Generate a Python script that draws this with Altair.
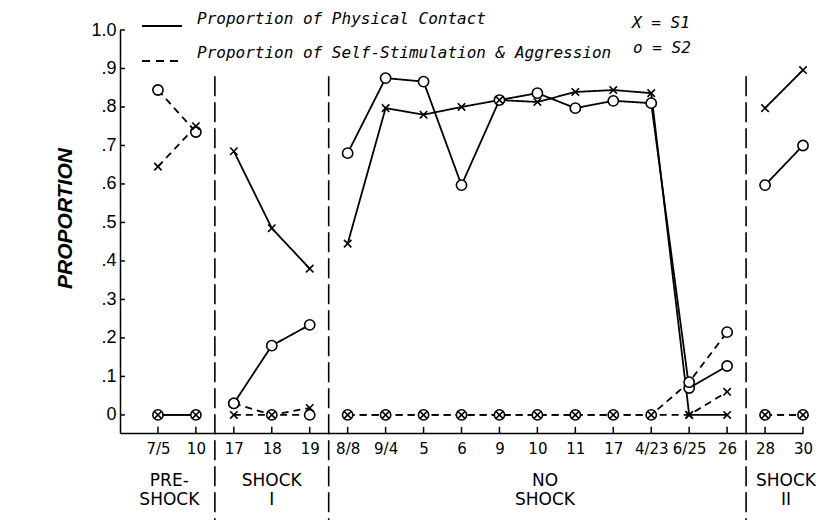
import json
import altair as alt
import pandas as pd

# ---------------- data ----------------
dates = ["7/5", "10", "17", "18", "19", "8/8", "9/4", "5", "6", "9",
         "10", "11", "17", "4/23", "6/25", "26", "28", "30"]
phases = ["PRE"] * 2 + ["SHOCK I"] * 3 + ["NO SHOCK"] * 11 + ["SHOCK II"] * 2

s1_contact = [0, 0, .685, .485, .38, .445, .797, .78, .80, .818,
              .813, .839, .844, .836, 0, 0, .797, .896]
s2_contact = [0, 0, .03, .18, .234, .68, .875, .866, .597, .818,
              .836, .797, .816, .81, .07, .127, .597, .70]
s1_selfstim = [.645, .75, 0, 0, .018, 0, 0, 0, 0, 0,
               0, 0, 0, 0, 0, .06, 0, 0]
s2_selfstim = [.844, .735, .03, 0, 0, 0, 0, 0, 0, 0,
               0, 0, 0, 0, .085, .215, 0, 0]

section_labels = ["PRE-\nSHOCK", "SHOCK\nI", "NO\nSHOCK", "SHOCK\nII"]
section_centers = [0.3, 3.0, 10.2, 16.55]
separators = [1.5, 4.5, 15.5]
y_ticks = [0, .1, .2, .3, .4, .5, .6, .7, .8, .9, 1.0]

legend_line_labels = ["Proportion of Physical Contact",
                      "Proportion of Self-Stimulation & Aggression"]
legend_symbol_labels = ["X = S1", "o = S2"]

# ---------------- tables ----------------
rows = []
for subj, meas, vals in [("S1", "contact", s1_contact), ("S2", "contact", s2_contact),
                         ("S1", "selfstim", s1_selfstim), ("S2", "selfstim", s2_selfstim)]:
    for i, v in enumerate(vals):
        rows.append({"idx": i, "value": v, "subject": subj, "measure": meas,
                     "phase": phases[i], "key": f"{subj}|{meas}|{phases[i]}"})
df = pd.DataFrame(rows)

Y_MIN = -0.047
FONT = "DejaVu Sans"
LEGFONT = "DejaVu Sans Mono"

xscale = alt.Scale(domain=[-1, 17], nice=False, zero=False)
yscale = alt.Scale(domain=[Y_MIN, 1.0], nice=False, zero=False)

label_arr = json.dumps(dates)
XA = alt.Axis(values=list(range(len(dates))),
              labelExpr=f"{label_arr}[datum.value]",
              title=None, grid=False, ticks=False,
              labelFont=FONT, labelFontSize=15, labelColor="black",
              labelPadding=8, domainColor="black", domainWidth=1.5,
              labelFlush=False)
YA = alt.Axis(values=y_ticks,
              labelExpr="datum.value == 0 ? '0' : (datum.value >= 0.99 ? '1.0' : replace(format(datum.value, '.1f'), '0.', '.'))",
              title="PROPORTION", titleFont="Liberation Sans", titleFontSize=21,
              titleFontWeight="bold", titleFontStyle="italic", titleColor="black",
              titleX=-55, titleY=188, titleAngle=270, titleAlign="center",
              titleBaseline="middle",
              grid=False, ticks=False,
              labelFont="Liberation Sans", labelFontSize=18, labelColor="black",
              labelPadding=4, domainColor="black", domainWidth=1.5)

base = alt.Chart(df)

lines = base.mark_line(color="black", strokeWidth=1.8).encode(
    x=alt.X("idx:Q", scale=xscale, axis=XA),
    y=alt.Y("value:Q", scale=yscale, axis=YA),
    detail="key:N",
    strokeDash=alt.StrokeDash("measure:N",
                              scale=alt.Scale(domain=["contact", "selfstim"],
                                              range=[[1, 0], [7, 5]]),
                              legend=None),
)

circles = base.transform_filter(alt.datum.subject == "S2").mark_point(
    shape="circle", size=105, filled=True, fill="white", stroke="black",
    strokeWidth=1.6, opacity=1).encode(
    x=alt.X("idx:Q", scale=xscale, axis=XA),
    y=alt.Y("value:Q", scale=yscale, axis=YA),
)

crosses = base.transform_filter(alt.datum.subject == "S1").mark_point(
    shape="M-1,-1L1,1M-1,1L1,-1", size=55, filled=False, stroke="black",
    strokeWidth=1.6, opacity=1).encode(
    x=alt.X("idx:Q", scale=xscale, axis=XA),
    y=alt.Y("value:Q", scale=yscale, axis=YA),
)

sep = alt.Chart(pd.DataFrame({"x": separators})).mark_rule(
    color="black", strokeWidth=1.6, strokeDash=[20, 6]).encode(
    x=alt.X("x:Q", scale=xscale, axis=XA),
    y=alt.Y(datum=0.88, scale=yscale, axis=YA),
    y2=alt.value(490),
)

ytick = alt.Chart(pd.DataFrame({"v": y_ticks})).mark_rule(
    color="black", strokeWidth=1.5).encode(
    y=alt.Y("v:Q", scale=yscale, axis=YA),
    x=alt.X(datum=-1, scale=xscale, axis=XA),
    x2=alt.X2(datum=-0.87),
)

xtick = alt.Chart(pd.DataFrame({"i": list(range(len(dates)))})).mark_rule(
    color="black", strokeWidth=1.5).encode(
    x=alt.X("i:Q", scale=xscale, axis=XA),
    y=alt.Y(datum=Y_MIN, scale=yscale, axis=YA),
    y2=alt.Y2(datum=Y_MIN + 0.016),
)

sections = alt.Chart(pd.DataFrame({"x": section_centers, "t": section_labels})).mark_text(
    font=FONT, fontSize=17, color="black", align="center", baseline="top",
    lineBreak="\n", lineHeight=19).encode(
    x=alt.X("x:Q", scale=xscale, axis=XA),
    y=alt.value(443),
    text="t:N",
)

leg_solid = alt.Chart(pd.DataFrame({"a": [0]})).mark_rule(
    color="black", strokeWidth=1.8).encode(
    x=alt.value(22), x2=alt.value(62), y=alt.value(-4))
leg_dash = alt.Chart(pd.DataFrame({"a": [0]})).mark_rule(
    color="black", strokeWidth=1.8, strokeDash=[8, 6]).encode(
    x=alt.value(22), x2=alt.value(62), y=alt.value(31))

def legend_text(t, x, y):
    return alt.Chart(pd.DataFrame({"t": [t]})).mark_text(
        font=LEGFONT, fontSize=16, fontStyle="italic", color="black", align="left",
        baseline="middle").encode(x=alt.value(x), y=alt.value(y), text="t:N")

chart = alt.layer(
    lines, sep, circles, crosses, ytick, xtick, sections,
    leg_solid, leg_dash,
    legend_text(legend_line_labels[0], 77, -11),
    legend_text(legend_line_labels[1], 77, 23),
    legend_text(legend_symbol_labels[0], 512, -7),
    legend_text(legend_symbol_labels[1], 513, 18),
).properties(
    width=683, height=403,
    autosize=alt.AutoSizeParams(type="none"),
    padding={"left": 120, "top": 30, "right": 13, "bottom": 87},
    background="white",
).configure_view(stroke=None)

chart.save("out.html", embed_options={"renderer": "svg", "actions": False})
